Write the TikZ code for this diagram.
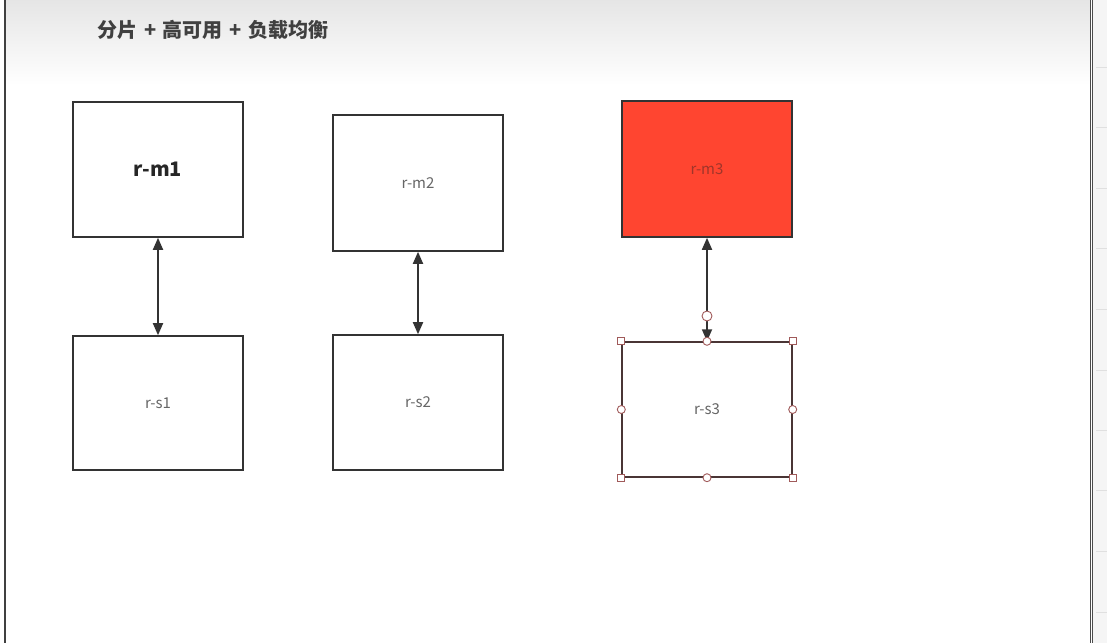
\documentclass[tikz,border=0pt]{standalone}
\usepackage{fontspec}
\setmainfont{Noto Sans CJK SC}
\usetikzlibrary{arrows.meta}
\definecolor{boxline}{HTML}{333333}
\definecolor{txtgray}{HTML}{666666}
\definecolor{redfill}{HTML}{FF4530}
\definecolor{redtxt}{HTML}{A0352A}
\definecolor{selline}{HTML}{4A3535}
\definecolor{handle}{HTML}{A05A5A}
\begin{document}
\begin{tikzpicture}[x=1pt,y=-1pt,
  box/.style={draw=boxline,line width=1.6pt,rectangle,inner sep=0pt,
    minimum width=170pt,minimum height=135pt,text=txtgray,font=\fontsize{15}{17}\selectfont},
  link/.style={draw=boxline,line width=1.8pt,{Triangle[length=12pt,width=10pt]}-{Triangle[length=12pt,width=10pt]}},
  hcirc/.style={circle,draw=handle,fill=white,line width=0.9pt,inner sep=0pt,minimum size=8pt},
  hsq/.style={rectangle,draw=handle,fill=white,line width=0.9pt,inner sep=0pt,minimum size=7pt}]
\useasboundingbox (0,0) rectangle (1107,643);
\fill[white] (0,0) rectangle (1107,643);
\fill[top color=black!10, bottom color=white] (5,0) rectangle (1090,85);
% right side panel
\fill[black!4] (1093,0) rectangle (1107,643);
\foreach \yy in {67,127,188,248,309,370,430,490,551,612}
  \draw[black!12,line width=0.8pt] (1096,\yy) -- (1107,\yy);
% page borders
\draw[black!75,line width=2pt] (4.5,0) -- (4.5,643);
\draw[black!70,line width=1pt] (1090,0) -- (1090,643);
\draw[black!70,line width=1pt] (1092.5,0) -- (1092.5,643);
% title
\node[font=\fontsize{20}{22}\selectfont\bfseries,text=black!75,anchor=center] (title) at (213,30) {分片\,\,+\,\,高可用\,\,+\,\,负载均衡};
% boxes
\node[box,font=\fontsize{20}{22}\selectfont\bfseries,text=black!85] (m1) at (158,169.5) {r-m1};
\node[box,minimum height=134pt] (s1) at (158,403) {\raisebox{-2pt}{r-s1}};
\node[box,minimum height=136pt] (m2) at (418,183) {\raisebox{-2pt}{r-m2}};
\node[box] (s2) at (418,402.5) {\raisebox{-2pt}{r-s2}};
\node[box,fill=redfill,text=redtxt,minimum height=136pt] (m3) at (707,169) {\raisebox{-1pt}{r-m3}};
\node[box,draw=selline,line width=1.4pt] (s3) at (707,409.5) {r-s3};
% connectors
\draw[link] (m1.south) -- (s1.north);
\draw[link] (m2.south) -- (s2.north);
\draw[link] (m3.south) -- (s3.north);
% selection handles
\foreach \a in {north west,north east,south west,south east}
  \node[hsq] at (s3.\a) {};
\foreach \a in {north,south,east,west}
  \node[hcirc] at (s3.\a) {};
\node[hcirc,minimum size=10pt] (hc) at (707,316) {};
\end{tikzpicture}
\end{document}
